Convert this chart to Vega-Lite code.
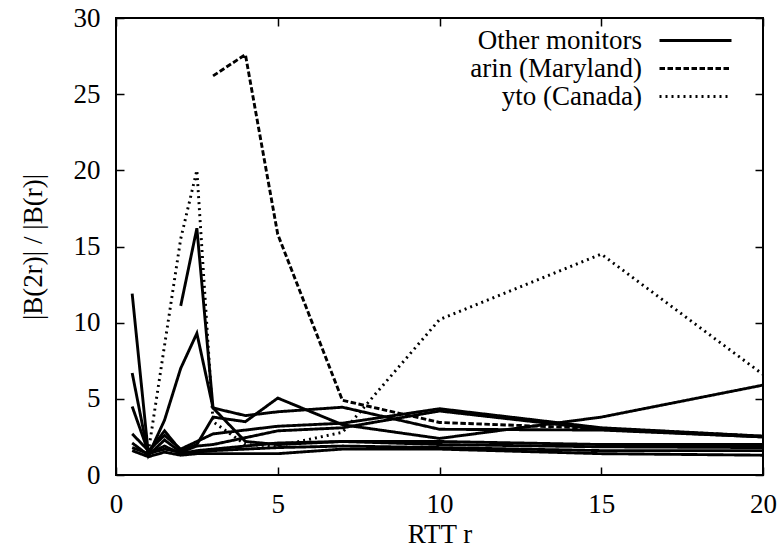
{
  "$schema": "https://vega.github.io/schema/vega-lite/v6.json",
  "width": 647,
  "height": 457,
  "autosize": {"type": "none"},
  "padding": {"left": 116, "top": 18, "right": 20, "bottom": 80},
  "background": "white",
  "config": {
    "view": {"stroke": "black", "strokeWidth": 2},
    "font": "Liberation Serif, Times New Roman, serif",
    "axis": {
      "domain": false, "grid": false, "tickColor": "black", "tickWidth": 1.5, "tickSize": -8,
      "labelFont": "Liberation Serif, Times New Roman, serif", "labelFontSize": 27, "labelColor": "black",
      "titleFont": "Liberation Serif, Times New Roman, serif", "titleFontSize": 27, "titleFontWeight": "normal", "titleColor": "black",
      "labelFlush": false, "labelOverlap": false, "labelBound": false
    }
  },
  "data": {"values": [
    {"s": "S1", "m": "Other monitors", "x": 0.5, "y": 11.9}, {"s": "S1", "m": "Other monitors", "x": 1, "y": 1.4}, {"s": "S1", "m": "Other monitors", "x": 1.5, "y": 1.7}, {"s": "S1", "m": "Other monitors", "x": 2, "y": 1.5}, {"s": "S1", "m": "Other monitors", "x": 2.5, "y": 1.5}, {"s": "S1", "m": "Other monitors", "x": 3, "y": 1.6}, {"s": "S1", "m": "Other monitors", "x": 5, "y": 1.8}, {"s": "S1", "m": "Other monitors", "x": 7, "y": 1.9}, {"s": "S1", "m": "Other monitors", "x": 10, "y": 1.8}, {"s": "S1", "m": "Other monitors", "x": 15, "y": 1.6}, {"s": "S1", "m": "Other monitors", "x": 20, "y": 1.6},
    {"s": "S2", "m": "Other monitors", "x": 0.5, "y": 6.7}, {"s": "S2", "m": "Other monitors", "x": 1, "y": 1.3}, {"s": "S2", "m": "Other monitors", "x": 1.5, "y": 3.6}, {"s": "S2", "m": "Other monitors", "x": 2, "y": 7.0}, {"s": "S2", "m": "Other monitors", "x": 2.5, "y": 9.3}, {"s": "S2", "m": "Other monitors", "x": 3, "y": 4.4}, {"s": "S2", "m": "Other monitors", "x": 4, "y": 3.9}, {"s": "S2", "m": "Other monitors", "x": 5, "y": 4.15}, {"s": "S2", "m": "Other monitors", "x": 7, "y": 4.45}, {"s": "S2", "m": "Other monitors", "x": 10, "y": 3.0}, {"s": "S2", "m": "Other monitors", "x": 15, "y": 2.95}, {"s": "S2", "m": "Other monitors", "x": 20, "y": 2.5},
    {"s": "S3", "m": "Other monitors", "x": 2, "y": 11.1}, {"s": "S3", "m": "Other monitors", "x": 2.5, "y": 16.2}, {"s": "S3", "m": "Other monitors", "x": 3, "y": 4.4}, {"s": "S3", "m": "Other monitors", "x": 4, "y": 2.2}, {"s": "S3", "m": "Other monitors", "x": 5, "y": 2.0}, {"s": "S3", "m": "Other monitors", "x": 7, "y": 2.2}, {"s": "S3", "m": "Other monitors", "x": 10, "y": 2.2}, {"s": "S3", "m": "Other monitors", "x": 15, "y": 2.0}, {"s": "S3", "m": "Other monitors", "x": 20, "y": 2.0},
    {"s": "S4", "m": "Other monitors", "x": 0.5, "y": 4.5}, {"s": "S4", "m": "Other monitors", "x": 1, "y": 1.5}, {"s": "S4", "m": "Other monitors", "x": 1.5, "y": 2.9}, {"s": "S4", "m": "Other monitors", "x": 2, "y": 1.6}, {"s": "S4", "m": "Other monitors", "x": 2.5, "y": 2.0}, {"s": "S4", "m": "Other monitors", "x": 3, "y": 3.8}, {"s": "S4", "m": "Other monitors", "x": 4, "y": 3.5}, {"s": "S4", "m": "Other monitors", "x": 5, "y": 5.05}, {"s": "S4", "m": "Other monitors", "x": 7, "y": 3.3}, {"s": "S4", "m": "Other monitors", "x": 10, "y": 2.4}, {"s": "S4", "m": "Other monitors", "x": 15, "y": 3.8}, {"s": "S4", "m": "Other monitors", "x": 20, "y": 5.9},
    {"s": "S5", "m": "Other monitors", "x": 0.5, "y": 2.7}, {"s": "S5", "m": "Other monitors", "x": 1, "y": 1.6}, {"s": "S5", "m": "Other monitors", "x": 1.5, "y": 2.6}, {"s": "S5", "m": "Other monitors", "x": 2, "y": 1.7}, {"s": "S5", "m": "Other monitors", "x": 2.5, "y": 2.2}, {"s": "S5", "m": "Other monitors", "x": 3, "y": 2.7}, {"s": "S5", "m": "Other monitors", "x": 5, "y": 3.2}, {"s": "S5", "m": "Other monitors", "x": 7, "y": 3.4}, {"s": "S5", "m": "Other monitors", "x": 10, "y": 4.35}, {"s": "S5", "m": "Other monitors", "x": 15, "y": 3.1}, {"s": "S5", "m": "Other monitors", "x": 20, "y": 2.55},
    {"s": "S6", "m": "Other monitors", "x": 0.5, "y": 2.1}, {"s": "S6", "m": "Other monitors", "x": 1, "y": 1.3}, {"s": "S6", "m": "Other monitors", "x": 1.5, "y": 2.3}, {"s": "S6", "m": "Other monitors", "x": 2, "y": 1.5}, {"s": "S6", "m": "Other monitors", "x": 2.5, "y": 1.9}, {"s": "S6", "m": "Other monitors", "x": 3, "y": 2.0}, {"s": "S6", "m": "Other monitors", "x": 5, "y": 2.9}, {"s": "S6", "m": "Other monitors", "x": 7, "y": 3.1}, {"s": "S6", "m": "Other monitors", "x": 10, "y": 4.2}, {"s": "S6", "m": "Other monitors", "x": 15, "y": 3.0}, {"s": "S6", "m": "Other monitors", "x": 20, "y": 2.5},
    {"s": "S7", "m": "Other monitors", "x": 0.5, "y": 1.8}, {"s": "S7", "m": "Other monitors", "x": 1, "y": 1.4}, {"s": "S7", "m": "Other monitors", "x": 1.5, "y": 1.9}, {"s": "S7", "m": "Other monitors", "x": 2, "y": 1.4}, {"s": "S7", "m": "Other monitors", "x": 2.5, "y": 1.6}, {"s": "S7", "m": "Other monitors", "x": 3, "y": 1.7}, {"s": "S7", "m": "Other monitors", "x": 5, "y": 2.1}, {"s": "S7", "m": "Other monitors", "x": 7, "y": 2.2}, {"s": "S7", "m": "Other monitors", "x": 10, "y": 2.0}, {"s": "S7", "m": "Other monitors", "x": 15, "y": 1.85}, {"s": "S7", "m": "Other monitors", "x": 20, "y": 1.8},
    {"s": "S8", "m": "Other monitors", "x": 0.5, "y": 1.6}, {"s": "S8", "m": "Other monitors", "x": 1, "y": 1.2}, {"s": "S8", "m": "Other monitors", "x": 1.5, "y": 1.5}, {"s": "S8", "m": "Other monitors", "x": 2, "y": 1.3}, {"s": "S8", "m": "Other monitors", "x": 2.5, "y": 1.4}, {"s": "S8", "m": "Other monitors", "x": 3, "y": 1.4}, {"s": "S8", "m": "Other monitors", "x": 5, "y": 1.4}, {"s": "S8", "m": "Other monitors", "x": 7, "y": 1.7}, {"s": "S8", "m": "Other monitors", "x": 10, "y": 1.7}, {"s": "S8", "m": "Other monitors", "x": 15, "y": 1.4}, {"s": "S8", "m": "Other monitors", "x": 20, "y": 1.3},
    {"s": "arin", "m": "arin (Maryland)", "x": 3, "y": 26.2}, {"s": "arin", "m": "arin (Maryland)", "x": 4, "y": 27.6}, {"s": "arin", "m": "arin (Maryland)", "x": 5, "y": 15.8}, {"s": "arin", "m": "arin (Maryland)", "x": 7, "y": 4.9}, {"s": "arin", "m": "arin (Maryland)", "x": 10, "y": 3.45}, {"s": "arin", "m": "arin (Maryland)", "x": 15, "y": 3.05}, {"s": "arin", "m": "arin (Maryland)", "x": 20, "y": 2.55},
    {"s": "yto", "m": "yto (Canada)", "x": 1, "y": 1.5}, {"s": "yto", "m": "yto (Canada)", "x": 2, "y": 15.5}, {"s": "yto", "m": "yto (Canada)", "x": 2.5, "y": 20.0}, {"s": "yto", "m": "yto (Canada)", "x": 3, "y": 3.5}, {"s": "yto", "m": "yto (Canada)", "x": 4, "y": 2.0}, {"s": "yto", "m": "yto (Canada)", "x": 5, "y": 1.9}, {"s": "yto", "m": "yto (Canada)", "x": 7, "y": 2.8}, {"s": "yto", "m": "yto (Canada)", "x": 10, "y": 10.2}, {"s": "yto", "m": "yto (Canada)", "x": 15, "y": 14.5}, {"s": "yto", "m": "yto (Canada)", "x": 20, "y": 6.6}
  ]},
  "layer": [
    {
      "mark": {"type": "line", "strokeWidth": 2.9, "clip": true},
      "encoding": {
        "x": {"field": "x", "type": "quantitative", "scale": {"domain": [0, 20], "nice": false, "zero": false},
              "axis": {"orient": "bottom", "values": [0, 5, 10, 15, 20], "title": "RTT r", "labelPadding": 24, "titlePadding": 4}},
        "y": {"field": "y", "type": "quantitative", "scale": {"domain": [0, 30], "nice": false},
              "axis": {"orient": "left", "values": [0, 5, 10, 15, 20, 25, 30], "title": "|B(2r)| / |B(r)|", "labelPadding": 24, "titlePadding": 26}},
        "detail": {"field": "s", "type": "nominal"},
        "color": {"value": "black"},
        "strokeDash": {"field": "m", "type": "nominal",
          "scale": {"domain": ["Other monitors", "arin (Maryland)", "yto (Canada)"], "range": [[1, 0], [5.5, 2.5], [2, 4]]},
          "legend": {"title": null, "orient": "none", "legendX": 566, "legendY": 9, "padding": 0,
            "symbolType": "M-3.6,0H3.6", "symbolSize": 400, "symbolStrokeWidth": 2.9, "symbolStrokeColor": "black",
            "labelFont": "Liberation Serif, Times New Roman, serif", "labelFontSize": 27, "labelColor": "black", "labelAlign": "right",
            "labelOffset": -67, "labelLimit": 400, "rowPadding": 0}}
      }
    },
    {
      "mark": {"type": "point", "opacity": 0},
      "encoding": {
        "x": {"field": "x", "type": "quantitative", "axis": {"orient": "top", "values": [0, 5, 10, 15, 20], "labels": false, "title": null}},
        "y": {"field": "y", "type": "quantitative", "axis": {"orient": "right", "values": [0, 5, 10, 15, 20, 25, 30], "labels": false, "title": null}}
      }
    }
  ],
  "resolve": {"axis": {"x": "independent", "y": "independent"}}
}
